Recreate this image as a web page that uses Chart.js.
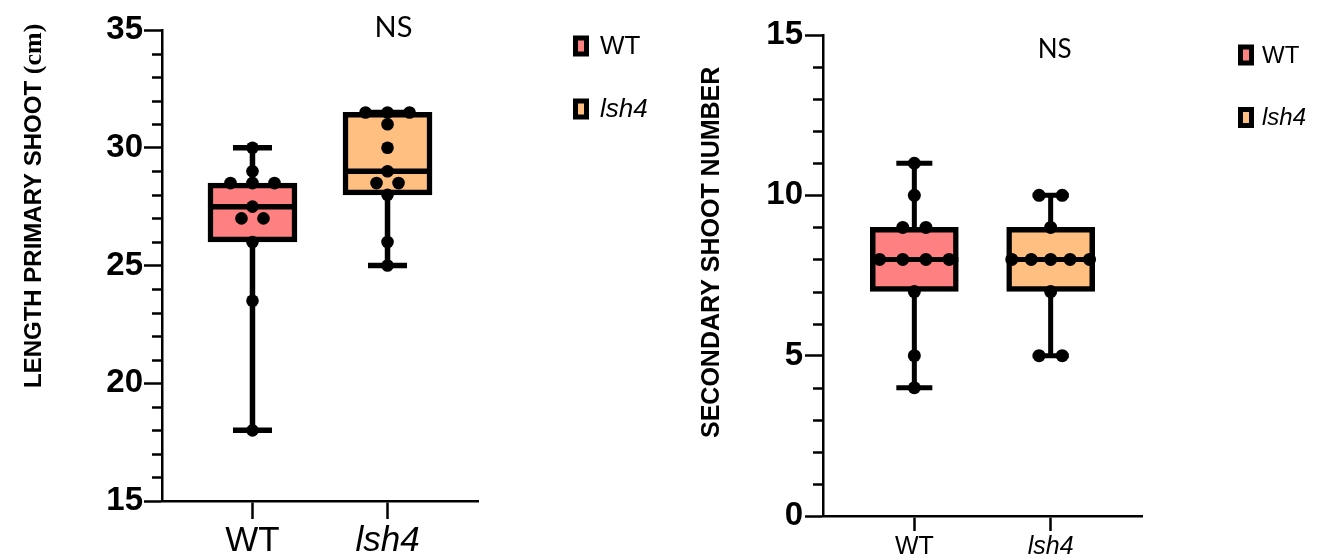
<!DOCTYPE html>
<html><head><meta charset="utf-8">
<script src="https://cdn.jsdelivr.net/npm/chart.js@4.4.1/dist/chart.umd.min.js"></script>
<style>
html,body{margin:0;padding:0;background:#fff;}
#wrap{position:relative;width:1323px;height:558px;overflow:hidden;background:#fff;}
canvas{position:absolute;top:0;}
</style></head><body>
<div id="wrap">
<canvas id="c1" width="680" height="558" style="left:0px"></canvas>
<canvas id="c2" width="643" height="558" style="left:680px"></canvas>
</div>
<script>
// ---------- data ----------
const categories = ['WT', 'lsh4'];
const boxColors = ['#FF8080', '#FFBF80'];
const sigLabel = 'NS';

// Panel A: length of primary shoot (cm)
const lengthTitle = ['LENGTH PRIMARY SHOOT ', '(cm)'];
const lengthWT   = [30, 29, 28.5, 28.5, 28.5, 27.5, 27, 27, 26, 23.5, 18];
const lengthLsh4 = [31.5, 31.5, 31.5, 31, 30, 29, 28.5, 28.5, 28, 26, 25];
const lengthMin    = [18, 25];
const lengthQ1     = [26, 28];
const lengthMedian = [27.5, 29];
const lengthQ3     = [28.5, 31.5];
const lengthMax    = [30, 31.5];
const lengthTicks  = [15, 20, 25, 30, 35];

// Panel B: secondary shoot number
const shootTitle = ['SECONDARY SHOOT NUMBER'];
const shootWT   = [11, 10, 9, 9, 8, 8, 8, 8, 7, 5, 4];
const shootLsh4 = [10, 10, 9, 8, 8, 8, 8, 8, 7, 5, 5];
const shootMin    = [4, 5];
const shootQ1     = [7, 7];
const shootMedian = [8, 8];
const shootQ3     = [9, 9];
const shootMax    = [11, 10];
const shootTicks  = [0, 5, 10, 15];

const groupTicks = [0, 1];

Chart.defaults.font.family = '"Liberation Sans", Arial, sans-serif';
Chart.defaults.color = '#000';

function swarm(groups, P) {
  const pts = [];
  groups.forEach((vals, gi) => {
    const counts = {};
    vals.forEach(v => counts[v] = (counts[v] || 0) + 1);
    const seen = {};
    vals.forEach(v => {
      const n = counts[v];
      const k = seen[v] = (seen[v] === undefined ? 0 : seen[v] + 1);
      const s = n > 1 ? Math.min(P.swarmMax, P.swarmSpan / (n - 1)) : 0;
      pts.push({x: gi + (k - (n - 1) / 2) * s, y: v});
    });
  });
  return pts;
}

function extras(P) {
  return {
    id: 'panelExtras',
    beforeDatasetDraw(chart, args) {
      if (args.index !== 0) return;
      const ctx = chart.ctx, x = chart.scales.x, y = chart.scales.y;
      ctx.save();
      ctx.strokeStyle = '#000';
      ctx.lineWidth = P.whiskerLw;
      categories.forEach((c, i) => {
        const cx = x.getPixelForValue(i);
        const yMin = y.getPixelForValue(P.min[i]);
        const yQ1 = y.getPixelForValue(P.q1[i]);
        const yQ3 = y.getPixelForValue(P.q3[i]);
        const yMax = y.getPixelForValue(P.max[i]);
        ctx.beginPath();
        ctx.moveTo(cx, yQ3); ctx.lineTo(cx, yMax);
        ctx.moveTo(cx, yQ1); ctx.lineTo(cx, yMin);
        ctx.moveTo(cx - P.capHalf, yMax); ctx.lineTo(cx + P.capHalf, yMax);
        ctx.moveTo(cx - P.capHalf, yMin); ctx.lineTo(cx + P.capHalf, yMin);
        ctx.stroke();
      });
      ctx.restore();
    },
    afterDatasetDraw(chart, args) {
      if (args.index !== 0) return;
      const ctx = chart.ctx, y = chart.scales.y;
      const bars = chart.getDatasetMeta(0).data;
      ctx.save();
      ctx.strokeStyle = '#000';
      ctx.lineWidth = P.whiskerLw;
      categories.forEach((c, i) => {
        const el = bars[i];
        const ym = y.getPixelForValue(P.median[i]);
        ctx.beginPath();
        ctx.moveTo(el.x - el.width / 2, ym);
        ctx.lineTo(el.x + el.width / 2, ym);
        ctx.stroke();
      });
      ctx.restore();
    },
    afterDraw(chart) {
      const ctx = chart.ctx, x = chart.scales.x, y = chart.scales.y;
      const left = chart.chartArea.left;
      ctx.save();
      // minor ticks
      ctx.strokeStyle = '#000';
      ctx.lineWidth = 2.5;
      ctx.beginPath();
      for (let v = y.min; v <= y.max; v += 1) {
        if (P.yTicks.includes(v)) continue;
        const py = Math.round(y.getPixelForValue(v)) + 0.5;
        ctx.moveTo(left - P.minorLen, py);
        ctx.lineTo(left, py);
      }
      ctx.stroke();
      // significance label
      ctx.fillStyle = '#000';
      ctx.textAlign = 'center';
      ctx.textBaseline = 'middle';
      ctx.font = P.nsFont;
      ctx.fillText(sigLabel, x.getPixelForValue(1) + P.nsDx, P.nsY);
      // legend
      categories.forEach((c, i) => {
        const cy = P.legY + i * P.legDy;
        ctx.fillStyle = '#000';
        ctx.fillRect(P.legX, cy - 10.5, 16, 21);
        ctx.fillStyle = boxColors[i];
        ctx.fillRect(P.legX + 5, cy - 5.5, 6, 11);
        ctx.fillStyle = '#000';
        ctx.textAlign = 'left';
        ctx.font = (i === 1 ? 'italic ' : '') + P.legFont;
        ctx.fillText(c, P.legX + P.legTextDx, cy + 1);
      });
      // y-axis title
      ctx.translate(P.titleX, P.titleBottom);
      ctx.rotate(-Math.PI / 2);
      ctx.textAlign = 'left';
      ctx.textBaseline = 'middle';
      let off = 0;
      P.title.forEach((t, k) => {
        ctx.font = P.titleFonts[k];
        ctx.fillText(t, off, 0);
        off += ctx.measureText(t).width;
      });
      ctx.restore();
    }
  };
}

function makeChart(canvas, P) {
  return new Chart(canvas, {
    type: 'bar',
    data: {
      datasets: [
        {
          type: 'bar',
          data: categories.map((c, i) => ({x: i, y: [P.q1[i], P.q3[i]]})),
          backgroundColor: boxColors,
          borderColor: '#000',
          borderWidth: P.boxLw,
          borderSkipped: false,
          barThickness: P.boxWidth,
          order: 2
        },
        {
          type: 'scatter',
          data: swarm(P.groups, P),
          pointRadius: P.dotR,
          pointBackgroundColor: '#000',
          pointBorderWidth: 0,
          order: 1
        }
      ]
    },
    options: {
      responsive: false,
      animation: false,
      devicePixelRatio: 1,
      events: [],
      layout: {padding: {top: P.top, right: P.padRight, left: 0, bottom: 0}},
      plugins: {legend: {display: false}, tooltip: {enabled: false}},
      scales: {
        x: {
          type: 'linear', min: -0.67, max: 1.67, offset: false,
          afterBuildTicks: s => { s.ticks = groupTicks.map(v => ({value: v})); },
          afterFit: s => { s.height = P.xAxisH; },
          ticks: {
            autoSkip: false, maxRotation: 0, color: '#000', padding: P.xPad,
            callback: v => categories[v],
            font: ctx => ({family: '"Liberation Sans", Arial, sans-serif', size: P.xFont,
                           style: (ctx.tick && ctx.tick.value === 1) ? 'italic' : 'normal'})
          },
          grid: {offset: false, drawOnChartArea: false, tickLength: P.xTickLen, tickWidth: 2.5, color: '#000'},
          border: {color: '#000', width: 2.5}
        },
        y: {
          type: 'linear', min: P.yMin, max: P.yMax,
          afterBuildTicks: s => { s.ticks = P.yTicks.map(v => ({value: v})); },
          afterFit: s => { s.width = P.yAxisW; },
          ticks: {color: '#000', padding: P.yPad, font: {size: 33, weight: 'bold'}},
          grid: {drawOnChartArea: false, tickLength: 18, tickWidth: 2.5, color: '#000'},
          border: {color: '#000', width: 2.5}
        }
      }
    },
    plugins: [extras(P)]
  });
}

makeChart(document.getElementById('c1'), {
  groups: [lengthWT, lengthLsh4],
  min: lengthMin, q1: lengthQ1, median: lengthMedian, q3: lengthQ3, max: lengthMax,
  yMin: 15, yMax: 35, yTicks: lengthTicks,
  title: lengthTitle,
  titleFonts: ['bold 24px "Liberation Sans"', 'bold 26px "Liberation Serif"'],
  titleX: 34, titleBottom: 388,
  yAxisW: 162, top: 30, padRight: 202, xAxisH: 57, yPad: 1,
  xTickLen: 18, xFont: 35, xPad: 1, minorLen: 10,
  nsFont: '29px Lato', nsDx: 6, nsY: 28,
  legX: 573, legY: 46, legDy: 63, legTextDx: 27, legFont: '26px "Liberation Sans"',
  capHalf: 19.5, whiskerLw: 5.5, boxLw: 5.5, boxWidth: 89, dotR: 6.3,
  swarmMax: 0.163, swarmSpan: 0.57
});

makeChart(document.getElementById('c2'), {
  groups: [shootWT, shootLsh4],
  min: shootMin, q1: shootQ1, median: shootMedian, q3: shootQ3, max: shootMax,
  yMin: 0, yMax: 15, yTicks: shootTicks,
  title: shootTitle,
  titleFonts: ['bold 25px "Liberation Sans"'],
  titleX: 32, titleBottom: 438,
  yAxisW: 143, top: 35, padRight: 181, xAxisH: 42, yPad: 2,
  xTickLen: 15, xFont: 25, xPad: 1, minorLen: 10,
  nsFont: '26px Lato', nsDx: 4, nsY: 50,
  legX: 558, legY: 55, legDy: 62.5, legTextDx: 24, legFont: '24px "Liberation Sans"',
  capHalf: 18, whiskerLw: 5, boxLw: 5.5, boxWidth: 88, dotR: 6.5,
  swarmMax: 0.17, swarmSpan: 0.57
});
</script>
</body></html>
